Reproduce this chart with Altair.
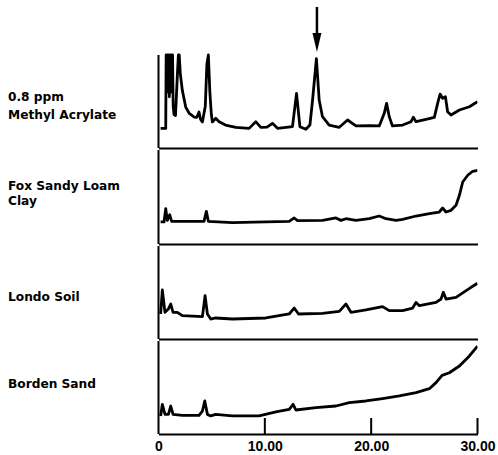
import altair as alt
import pandas as pd

# ---- data: retention time (min) and detector signal (arbitrary units) ----
ma_x = [0.2, 0.68, 0.72, 0.78, 0.84, 0.9, 0.96, 1.02, 1.08, 1.14, 1.2, 1.26, 1.32, 1.38,
        1.46, 1.6, 1.78, 1.87, 1.95, 2.05, 2.24, 2.56, 2.87, 3.34, 3.6, 3.81, 3.95, 4.13,
        4.4, 4.55, 4.69, 4.83, 4.97, 5.07, 5.38, 5.7, 6.3, 7.27, 8.52, 9.15, 9.62, 10.2,
        10.72, 11.19, 12.6, 12.98, 13.3, 13.86, 14.24, 14.49, 14.85, 15.11, 15.42, 16.05,
        17.0, 17.78, 18.57, 19.82, 20.76, 21.23, 21.45, 21.7, 22.0, 22.96, 23.75, 23.96,
        24.22, 25.16, 25.94, 26.25, 26.48, 26.72, 26.98, 27.19, 27.51, 28.3, 29.24, 30.0]
ma_y = [21, 21, 100, 60, 100, 75, 100, 55, 100, 70, 100, 60, 100, 45,
        36, 35, 80, 100, 100, 80, 62, 44, 37.6, 33.3, 33, 38.7, 31, 28,
        45, 90, 100, 60, 36, 28, 31.9, 28.3, 24.7, 22.2, 21.1, 28.3, 22.2, 22.5,
        26.5, 21.2, 22.9, 58.8, 22.9, 20.1, 24.7, 51.6, 96, 51.6, 33.7, 24.7,
        22.3, 30.1, 23.7, 24, 23.7, 37.3, 48, 33.7, 23.7, 24.7, 28.3, 33,
        28.3, 30.8, 33, 48, 58, 53.4, 55.2, 39, 35.5, 40.9, 44.4, 49.8]

fox_x = [0.2, 0.52, 0.68, 0.83, 1.05, 1.24, 1.62, 4.28, 4.5, 4.69, 6.95, 10.1, 12.29,
         12.76, 13.07, 15.42, 16.69, 17.16, 17.63, 18.57, 19.82, 20.76, 21.39, 22.34,
         22.96, 24.22, 25.47, 26.41, 26.72, 27.04, 27.51, 27.98, 28.3, 28.61, 29.08,
         29.55, 30.0]
fox_y = [23.7, 23.7, 38, 25.4, 31.5, 24.4, 24.4, 24.4, 35.1, 24.4, 22.9, 23.7, 24.4,
         28, 25.1, 25.4, 28, 25.4, 27.2, 25.4, 27.2, 30.1, 27.2, 25.4,
         26.5, 30.1, 32.6, 34.4, 38.7, 34.4, 36.2, 41.6, 52.4, 66.7, 73.9,
         78.2, 79.2]

londo_x = [0.2, 0.36, 0.61, 0.93, 1.15, 1.37, 1.77, 2.24, 4.13, 4.38, 4.6, 4.91, 5.38,
           6.95, 10.1, 12.29, 12.76, 13.17, 15.42, 17.0, 17.63, 18.1, 19.51, 21.07,
           21.7, 22.96, 23.9, 24.22, 24.53, 26.1, 26.57, 26.79, 27.04, 27.98, 28.93,
           29.4, 30.0]
londo_y = [26.9, 52.7, 28.7, 32.3, 37.6, 28.7, 28.7, 25.1, 24, 46.6, 26.9, 21.5, 22.6,
           21.5, 22.6, 26.9, 33.3, 26.9, 27.6, 29.7, 37.6, 28.7, 31.2, 34.8,
           30.5, 30.5, 33.3, 39.4, 35.8, 39.4, 43, 50.2, 43, 44.8, 52,
           55.6, 59.9]

borden_x = [0.2, 0.36, 0.61, 0.93, 1.15, 1.37, 2.24, 3.81, 4.13, 4.35, 4.6, 4.91, 5.38,
            6.95, 9.46, 11.04, 12.29, 12.66, 12.92, 14.8, 16.69, 17.94, 19.51, 21.07,
            22.65, 24.22, 25.47, 26.1, 26.67, 27.35, 28.3, 29.24, 30.0]
borden_y = [19.4, 31.9, 21.1, 21.1, 30.1, 21.1, 20.1, 20.1, 24.7, 35.5, 21.1, 19.4, 21.1,
            19.4, 19.4, 23.7, 26.5, 31.9, 25.8, 28.3, 30.1, 33.7, 35.5, 38,
            40.9, 44.4, 48.7, 55.2, 63.1, 65.9, 73.1, 83.9, 94.6]

sample_labels = [["0.8 ppm", "Methyl Acrylate"], ["Fox Sandy Loam", "Clay"],
                 ["Londo Soil"], ["Borden Sand"]]
x_tick_values = [0, 10, 20, 30]
inner_tick_values = [10, 20, 30]
arrow_x = [14.9]

# ---- layout ----
W = 319
UNIT = 0.93  # px per signal unit
heights = [143, 94, 93, 93]
title_y = [95.7, 39.3, 54, 46.7]
title_lh = [17.6, 15.4, 15, 15]
LABEL_FONT = "DejaVu Sans"


def panel(xs, ys, label, h, ty, lh, bottom, first):
    df = pd.DataFrame({"t": xs, "s": ys})
    xaxis = alt.Axis(values=x_tick_values, labels=bottom, ticks=False, tickSize=0,
                     grid=False, domain=True, domainColor="black", domainWidth=2,
                     labelExpr="datum.value == 0 ? '0' : format(datum.value, '.2f')",
                     labelFont="Liberation Sans", labelFontSize=14,
                     labelFontWeight="bold", labelColor="black", labelPadding=5,
                     labelFlush=False, labelOverlap=False, title=None)
    yaxis = alt.Axis(title=label, titleAngle=0, titleAlign="left",
                     titleBaseline="alphabetic", titleX=-151, titleY=ty,
                     titleFont=LABEL_FONT, titleFontSize=12.2, titleFontWeight="bold",
                     titleColor="black", titleLineHeight=lh,
                     domain=False, ticks=False, labels=False, grid=False)
    xs_ = alt.Scale(domain=[0, 30], nice=False, zero=False)
    ys_ = alt.Scale(domain=[0, h / UNIT], nice=False, zero=False)
    line = alt.Chart(df).mark_line(color="black", strokeWidth=2.8, strokeJoin="round",
                                   clip=True).encode(
        x=alt.X("t:Q", scale=xs_, axis=xaxis),
        y=alt.Y("s:Q", scale=ys_, axis=yaxis),
    )
    one = pd.DataFrame({"a": [0]})
    top = h - 100 * UNIT if first else 0
    left = alt.Chart(one).mark_rule(color="black", strokeWidth=2).encode(
        x=alt.value(0), y=alt.value(top), y2=alt.value(h))
    layers = [line, left]
    if bottom:
        tk = alt.Chart(pd.DataFrame({"v": inner_tick_values})).mark_rule(
            color="black", strokeWidth=2).encode(
            x=alt.X("v:Q", scale=xs_), y=alt.value(h - 16), y2=alt.value(h))
        layers.append(tk)
    if first:
        adf = pd.DataFrame({"v": arrow_x})
        shaft = alt.Chart(adf).mark_rule(color="black", strokeWidth=2.5).encode(
            x=alt.X("v:Q", scale=xs_), y=alt.value(2), y2=alt.value(32))
        head = alt.Chart(adf).mark_point(
            shape="M-0.47,-1L0.47,-1L0,1Z", filled=True, color="black", opacity=1,
            size=361).encode(x=alt.X("v:Q", scale=xs_), y=alt.value(37.5))
        layers += [shaft, head]
    return alt.layer(*layers).properties(width=W, height=h)


series = [(ma_x, ma_y), (fox_x, fox_y), (londo_x, londo_y), (borden_x, borden_y)]
panels = []
for i, (xs, ys) in enumerate(series):
    panels.append(panel(xs, ys, sample_labels[i], heights[i], title_y[i], title_lh[i],
                        bottom=(i == 3), first=(i == 0)))

chart = alt.vconcat(*panels, spacing=0).properties(
    padding={"left": 7.5, "top": 5, "right": 0, "bottom": 0},
    background="white",
).configure_view(stroke=None)

chart.save("out.html", embed_options={"renderer": "svg", "actions": False})
